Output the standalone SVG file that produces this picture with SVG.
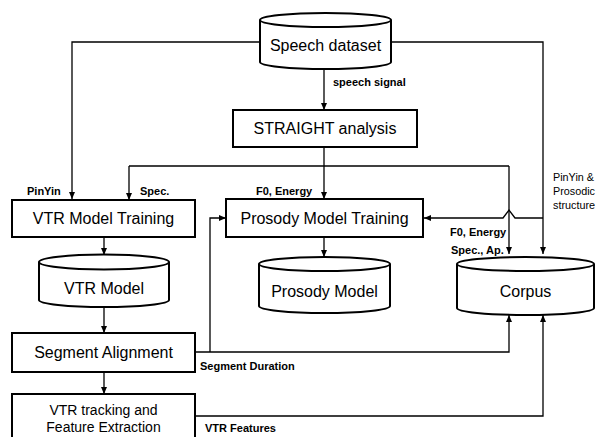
<svg xmlns="http://www.w3.org/2000/svg" width="599" height="437" viewBox="0 0 599 437">
<defs>
<marker id="ah" markerUnits="userSpaceOnUse" markerWidth="8" markerHeight="8" viewBox="0 0 8 8" refX="7" refY="4" orient="auto">
<path d="M0,1 L7,4 L0,7 Z" fill="#000"/>
</marker>
<style>
.box{fill:#fff;stroke:#000;stroke-width:2}
.cyl{fill:#fff;stroke:#000;stroke-width:2}
.ln{fill:none;stroke:#000;stroke-width:1.3}
.ar{fill:none;stroke:#000;stroke-width:1.3;marker-end:url(#ah)}
.t{font-family:"Liberation Sans",Arial,sans-serif;font-size:16px;text-anchor:middle;fill:#000}
.t14{font-family:"Liberation Sans",Arial,sans-serif;font-size:14px;text-anchor:middle;fill:#000}
.lb{font-family:"Liberation Sans",Arial,sans-serif;font-size:11px;font-weight:bold;fill:#000}
.lr{font-family:"Liberation Sans",Arial,sans-serif;font-size:10.8px;fill:#000}
</style>
</defs>
<rect width="599" height="437" fill="#fff"/>

<g id="connectors">
<path class="ar" d="M260,42 H72 V199"/>
<path class="ar" d="M391,42 H543 V254"/>
<path class="ar" d="M543,218 H515 L509,210 L503,218 H424"/>
<path class="ar" d="M324,70 V110"/>
<path class="ar" d="M324,147 V199"/>
<path class="ln" d="M129,166 H509"/>
<path class="ar" d="M129,166 V200"/>
<path class="ar" d="M509,166 V254"/>
<path class="ar" d="M324,237 V257"/>
<path class="ar" d="M104,237 V255"/>
<path class="ar" d="M104,307 V333"/>
<path class="ar" d="M104,372 V394"/>
<path class="ar" d="M195,352 H509 V315"/>
<path class="ar" d="M210,352 V218 H226"/>
<path class="ar" d="M195,416 H543 V315"/>
</g>

<g id="speech-dataset">
<path class="cyl" d="M260,20 A65.5,7 0 0 1 391,20 L391,62 A65.5,7 0 0 1 260,62 Z"/>
<path class="cyl" d="M260,20 A65.5,7 0 0 0 391,20" fill="none"/>
<text class="t" x="325.5" y="51">Speech dataset</text>
</g>

<g id="straight">
<rect class="box" x="233" y="110" width="184" height="37"/>
<text class="t" x="325" y="134">STRAIGHT analysis</text>
</g>

<g id="vtr-training">
<rect class="box" x="12" y="200" width="183" height="37"/>
<text class="t" x="103.5" y="224">VTR Model Training</text>
</g>

<g id="prosody-training">
<rect class="box" x="226" y="199" width="197" height="38"/>
<text class="t" x="324.5" y="224">Prosody Model Training</text>
</g>

<g id="vtr-model">
<path class="cyl" d="M39,262 A65,7.5 0 0 1 169,262 L169,300 A65,7 0 0 1 39,300 Z"/>
<path class="cyl" d="M39,262 A65,7.5 0 0 0 169,262" fill="none"/>
<text class="t" x="104" y="294">VTR Model</text>
</g>

<g id="prosody-model">
<path class="cyl" d="M259,264 A65.5,7 0 0 1 390,264 L390,306 A65.5,7 0 0 1 259,306 Z"/>
<path class="cyl" d="M259,264 A65.5,7 0 0 0 390,264" fill="none"/>
<text class="t" x="324.5" y="297">Prosody Model</text>
</g>

<g id="corpus">
<path class="cyl" d="M457,264 A68.5,7 0 0 1 594,264 L594,308 A68.5,7 0 0 1 457,308 Z"/>
<path class="cyl" d="M457,264 A68.5,7 0 0 0 594,264" fill="none"/>
<text class="t" x="525.5" y="297">Corpus</text>
</g>

<g id="segment-alignment">
<rect class="box" x="12" y="333" width="183" height="39"/>
<text class="t" x="103.5" y="358">Segment Alignment</text>
</g>

<g id="vtr-tracking">
<rect class="box" x="12" y="394" width="183" height="50"/>
<text class="t14" x="103.5" y="415">VTR tracking and</text>
<text class="t14" x="103.5" y="432">Feature Extraction</text>
</g>

<g id="labels">
<text class="lb" x="333" y="86">speech signal</text>
<text class="lb" x="27" y="195">PinYin</text>
<text class="lb" x="140" y="195">Spec.</text>
<text class="lb" x="256" y="195">F0, Energy</text>
<text class="lb" x="450" y="236">F0, Energy</text>
<text class="lb" x="451" y="254">Spec., Ap.</text>
<text class="lr" x="553" y="181">PinYin &amp;</text>
<text class="lr" x="553" y="195">Prosodic</text>
<text class="lr" x="553" y="209">structure</text>
<text class="lb" x="200" y="370">Segment Duration</text>
<text class="lb" x="205" y="432">VTR Features</text>
</g>
</svg>
